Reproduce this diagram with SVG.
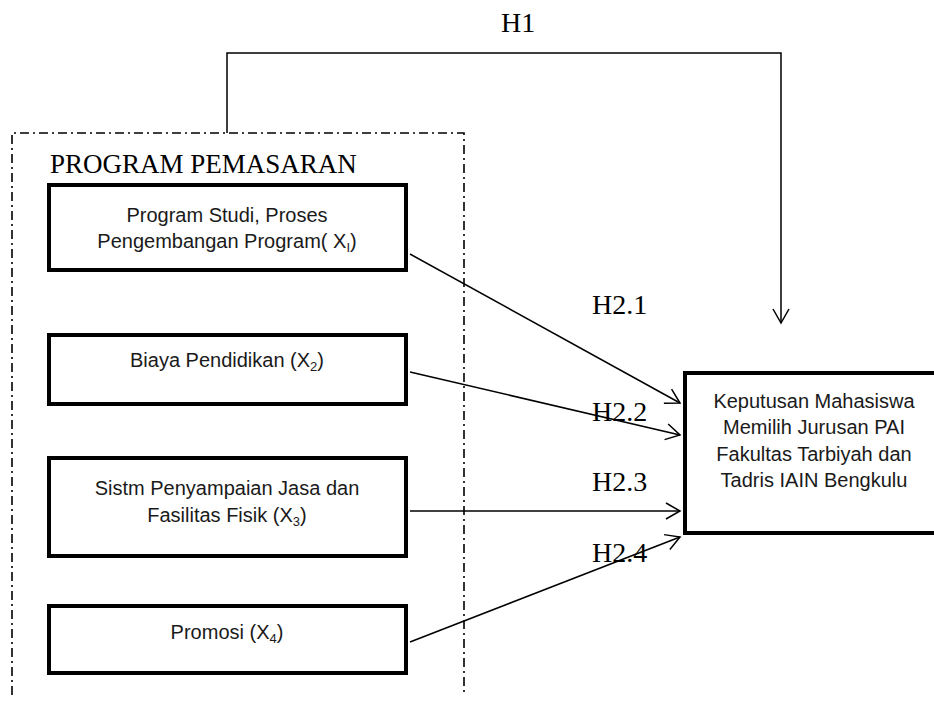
<svg xmlns="http://www.w3.org/2000/svg" width="934" height="710" viewBox="0 0 934 710">
<style>
.box{fill:#fff;stroke:#000;stroke-width:4}
.sans{font-family:"Liberation Sans",Arial,sans-serif;font-size:20px;fill:#1a1a1a;text-anchor:middle}
.serif{font-family:"Liberation Serif","Times New Roman",serif;fill:#000}
.lbl{font-size:28px}
.con{fill:none;stroke:#000;stroke-width:1.5}
.frame{fill:none;stroke:#000;stroke-width:1.6;stroke-dasharray:9 4 2 4}
</style>
<defs>
<marker id="arr" markerUnits="userSpaceOnUse" markerWidth="20" markerHeight="20" refX="0" refY="0" viewBox="-16 -10 18 20" orient="auto">
<path d="M-14,-8 L0,0 L-14,8" fill="none" stroke="#000" stroke-width="1.5"/>
</marker>
</defs>
<g id="program-pemasaran">
<path class="frame" d="M12,695 V133 H464 V695"/>
<text class="serif" x="50" y="173" font-size="27">PROGRAM PEMASARAN</text>
</g>
<g id="x1">
<rect class="box" x="49" y="185" width="357" height="85"/>
<text class="sans" x="227" y="222">Program Studi, Proses</text>
<text class="sans" x="227" y="248">Pengembangan Program( X<tspan dy="4" font-size="13">I</tspan><tspan dy="-4">)</tspan></text>
</g>
<g id="x2">
<rect class="box" x="49" y="335" width="357" height="69"/>
<text class="sans" x="227" y="367">Biaya Pendidikan (X<tspan dy="4" font-size="13">2</tspan><tspan dy="-4">)</tspan></text>
</g>
<g id="x3">
<rect class="box" x="49" y="458" width="357" height="98"/>
<text class="sans" x="227" y="495">Sistm Penyampaian Jasa dan</text>
<text class="sans" x="227" y="522">Fasilitas Fisik (X<tspan dy="4" font-size="13">3</tspan><tspan dy="-4">)</tspan></text>
</g>
<g id="x4">
<rect class="box" x="49" y="606" width="357" height="67"/>
<text class="sans" x="227" y="639">Promosi (X<tspan dy="4" font-size="13">4</tspan><tspan dy="-4">)</tspan></text>
</g>
<g id="keputusan">
<rect class="box" x="685" y="373" width="262" height="160"/>
<text class="sans" x="814" y="408">Keputusan Mahasiswa</text>
<text class="sans" x="814" y="434">Memilih Jurusan PAI</text>
<text class="sans" x="814" y="461">Fakultas Tarbiyah dan</text>
<text class="sans" x="814" y="487">Tadris IAIN Bengkulu</text>
</g>
<g id="connectors">
<path class="con" d="M227,133 V53 H781 V323" marker-end="url(#arr)"/>
<line class="con" x1="410" y1="254" x2="680" y2="403" marker-end="url(#arr)"/>
<line class="con" x1="410" y1="372" x2="680" y2="435" marker-end="url(#arr)"/>
<line class="con" x1="410" y1="511" x2="680" y2="511" marker-end="url(#arr)"/>
<line class="con" x1="410" y1="642" x2="680" y2="537" marker-end="url(#arr)"/>
<text class="serif lbl" x="501" y="32">H1</text>
<text class="serif lbl" x="592" y="314">H2.1</text>
<text class="serif lbl" x="592" y="421">H2.2</text>
<text class="serif lbl" x="592" y="491">H2.3</text>
<text class="serif lbl" x="592" y="562">H2.4</text>
</g>
</svg>
